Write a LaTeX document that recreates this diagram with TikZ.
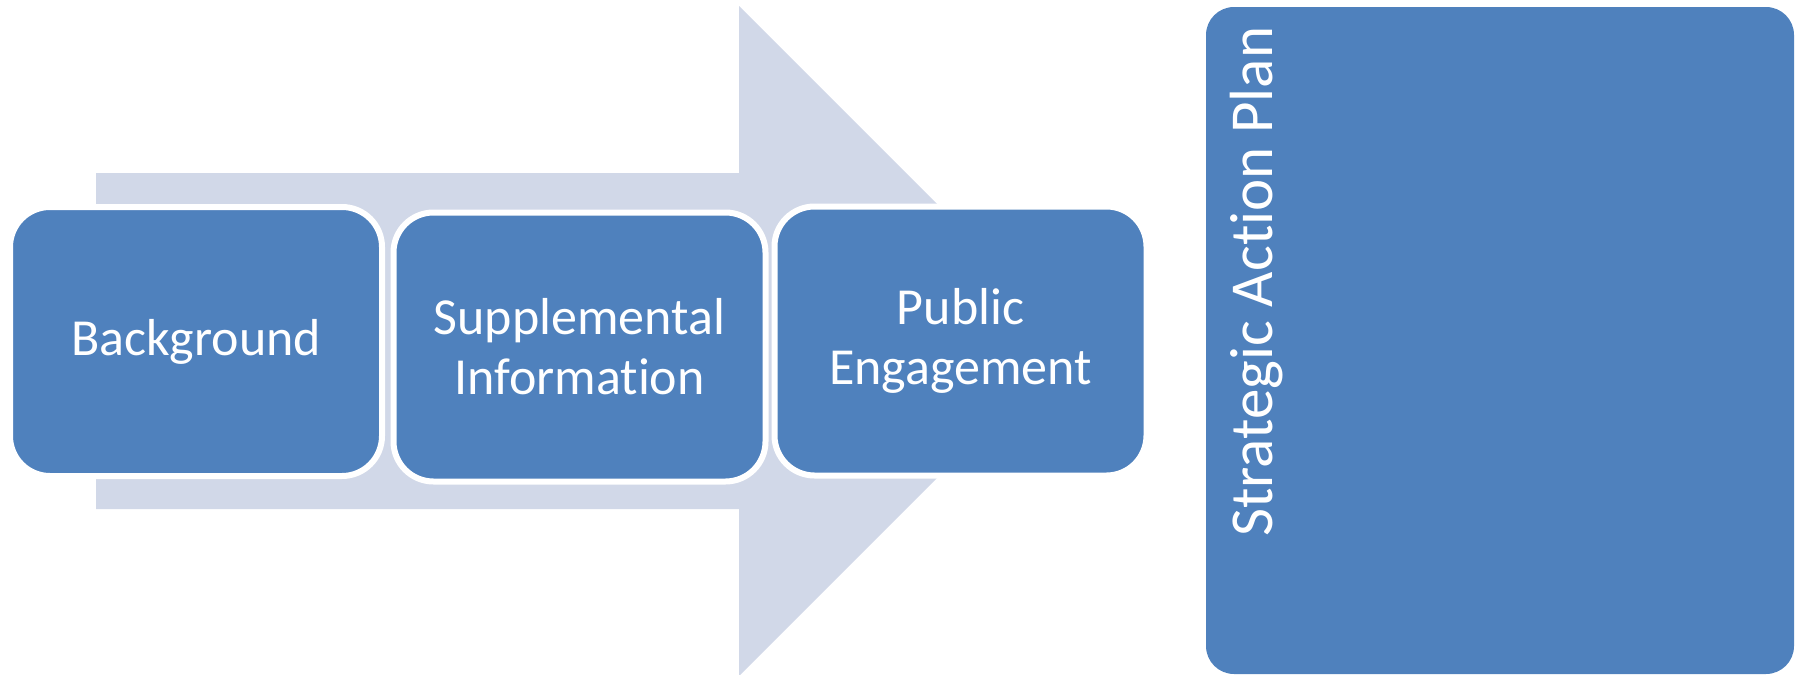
\documentclass[tikz,border=0pt]{standalone}
\usepackage{fontspec}
\setmainfont{Carlito}[Ligatures={NoCommon,NoDiscretionary}]

\definecolor{phaseblue}{RGB}{79,129,189}
\definecolor{arrowgray}{RGB}{209,216,232}

\tikzset{
  phase/.style={draw=white,line width=3pt,fill=phaseblue,rounded corners=20pt,
    minimum width=186pt,minimum height=134.5pt,inner sep=0pt,
    text=white,align=center,font=\fontsize{26}{30}\selectfont},
  planbox/.style={fill=phaseblue,rounded corners=14pt,
    minimum width=294pt,minimum height=333.5pt,inner sep=0pt},
}

\begin{document}
\begin{tikzpicture}[x=0.5pt,y=-0.5pt]
  \path[use as bounding box] (0,0) rectangle (1795,675);

  \coordinate (A1) at (96,173);
  \coordinate (A2) at (739,173);
  \coordinate (A3) at (739,6);
  \coordinate (A4) at (1074,341);
  \coordinate (A5) at (739,676);
  \coordinate (A6) at (739,509);
  \coordinate (A7) at (96,509);

  \path[fill=arrowgray] (A1) -- (A2) -- (A3) -- (A4) -- (A5) -- (A6) -- (A7) -- cycle;

  \node[phase] (bg) at (196,341.5) {Background};
  \node[phase] (supp) at (579.5,347) {Supplemental\\Information};
  \node[phase] (pub) at (960.5,341) {Public\\Engagement};

  \node[planbox] (sap) at (1500,340.5) {};
  \node[rotate=90,anchor=base west,inner sep=0pt,text=white,
        font=\fontsize{30.5}{36}\selectfont] (saptext) at (1272,537) {Strategic Action Plan};
\end{tikzpicture}
\end{document}
